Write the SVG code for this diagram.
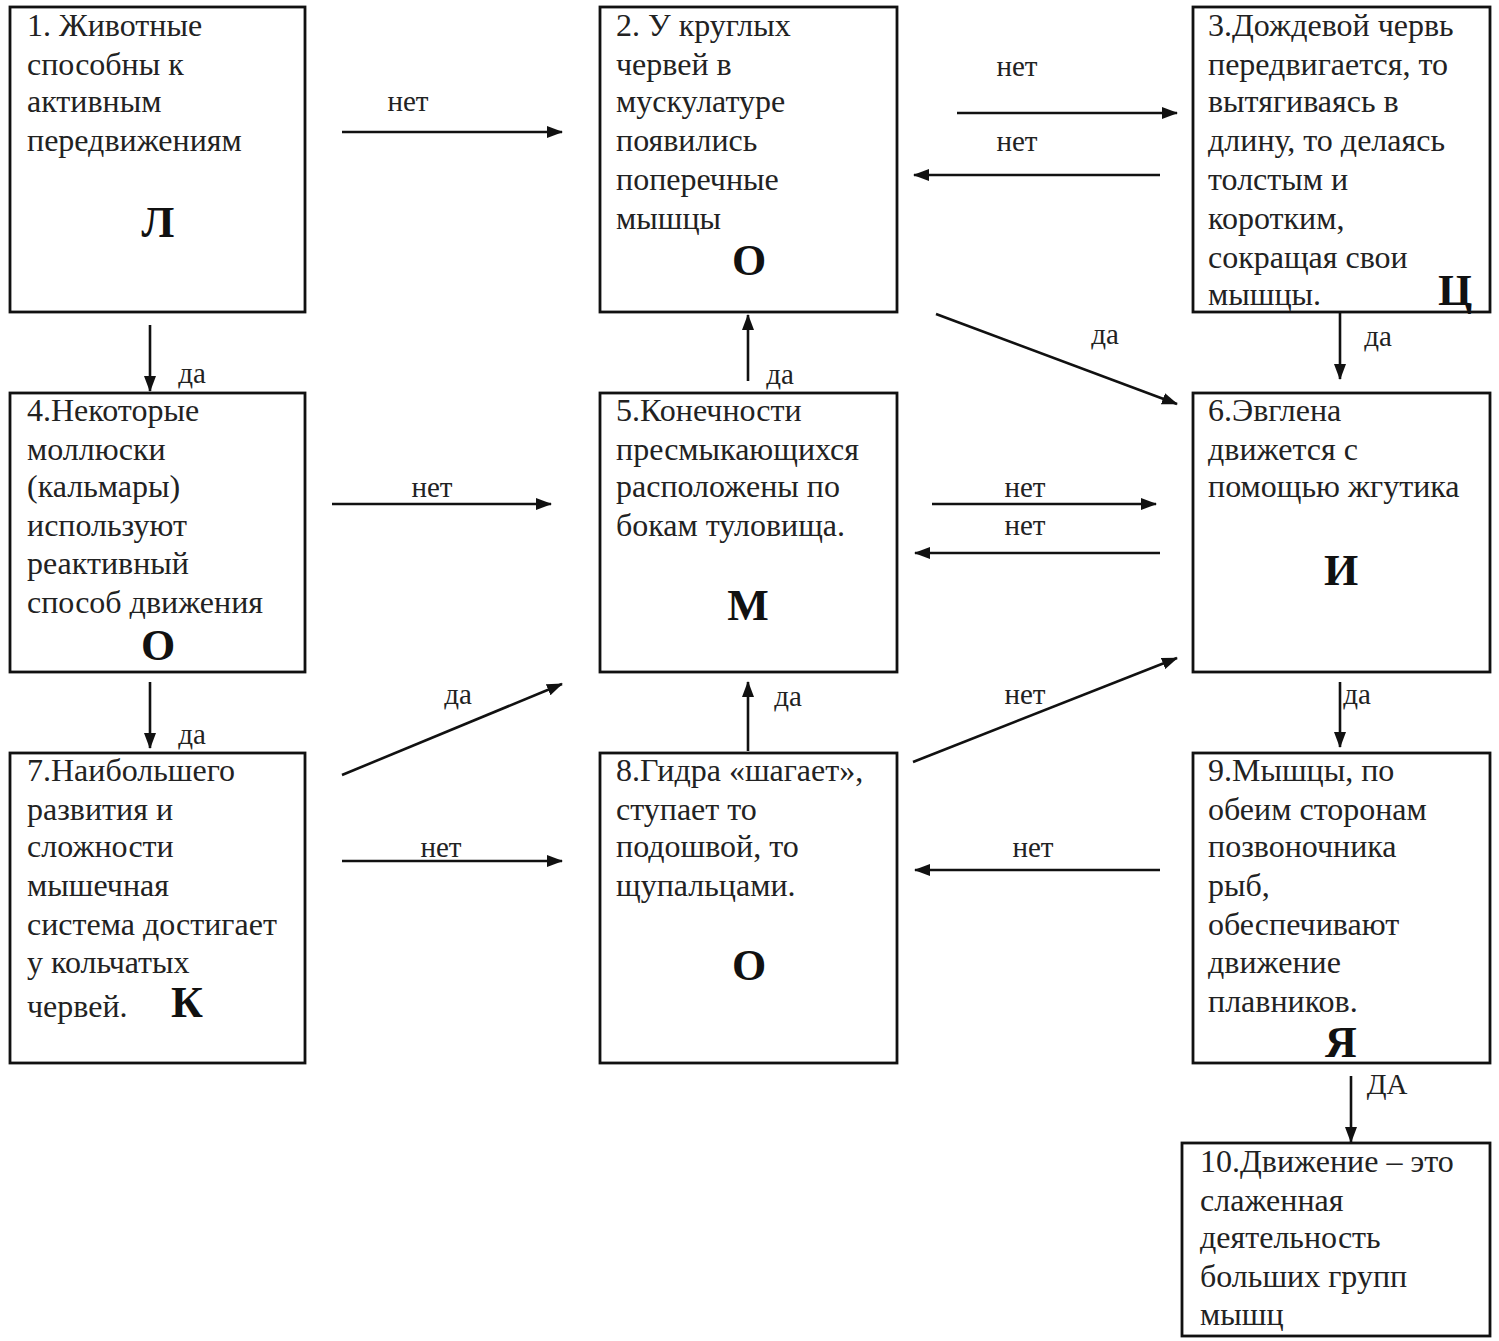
<svg xmlns="http://www.w3.org/2000/svg" width="1499" height="1341" viewBox="0 0 1499 1341">
<style>
.box{fill:#fff;stroke:#111;stroke-width:2.8}
.t{font-family:"Liberation Serif","Times New Roman",serif;font-size:32px;fill:#222}
.b{font-family:"Liberation Serif","Times New Roman",serif;font-size:44px;font-weight:bold;fill:#111}
.l{font-family:"Liberation Serif","Times New Roman",serif;font-size:29px;fill:#222}
.c{stroke:#111;stroke-width:2.6;fill:none;marker-end:url(#ah)}
</style>
<defs>
<marker id="ah" viewBox="0 0 16 12" refX="15" refY="6" markerWidth="16" markerHeight="12" markerUnits="userSpaceOnUse" orient="auto">
<path d="M0,0 L16,6 L0,12 Z" fill="#111"/>
</marker>
</defs>
<rect width="1499" height="1341" fill="#fff"/>

<g id="connectors">
<line class="c" x1="342" y1="132" x2="562" y2="132"/>
<text class="l" x="408" y="111" text-anchor="middle">нет</text>
<line class="c" x1="957" y1="113" x2="1177" y2="113"/>
<text class="l" x="1017" y="76" text-anchor="middle">нет</text>
<line class="c" x1="1160" y1="175" x2="914" y2="175"/>
<text class="l" x="1017" y="151" text-anchor="middle">нет</text>
<line class="c" x1="936" y1="314" x2="1177" y2="404"/>
<text class="l" x="1105" y="344" text-anchor="middle">да</text>
<line class="c" x1="1340" y1="313" x2="1340" y2="379"/>
<text class="l" x="1378" y="346" text-anchor="middle">да</text>
<line class="c" x1="150" y1="325" x2="150" y2="391"/>
<text class="l" x="192" y="383" text-anchor="middle">да</text>
<line class="c" x1="748" y1="381" x2="748" y2="315"/>
<text class="l" x="780" y="384" text-anchor="middle">да</text>
<line class="c" x1="332" y1="504" x2="551" y2="504"/>
<text class="l" x="432" y="497" text-anchor="middle">нет</text>
<line class="c" x1="932" y1="504" x2="1156" y2="504"/>
<text class="l" x="1025" y="497" text-anchor="middle">нет</text>
<line class="c" x1="1160" y1="553" x2="915" y2="553"/>
<text class="l" x="1025" y="535" text-anchor="middle">нет</text>
<line class="c" x1="150" y1="682" x2="150" y2="748"/>
<text class="l" x="192" y="744" text-anchor="middle">да</text>
<line class="c" x1="342" y1="775" x2="562" y2="684"/>
<text class="l" x="458" y="704" text-anchor="middle">да</text>
<line class="c" x1="748" y1="751" x2="748" y2="682"/>
<text class="l" x="788" y="706" text-anchor="middle">да</text>
<line class="c" x1="913" y1="762" x2="1177" y2="658"/>
<text class="l" x="1025" y="704" text-anchor="middle">нет</text>
<line class="c" x1="1340" y1="682" x2="1340" y2="747"/>
<text class="l" x="1357" y="704" text-anchor="middle">да</text>
<line class="c" x1="342" y1="861" x2="562" y2="861"/>
<text class="l" x="441" y="857" text-anchor="middle">нет</text>
<line class="c" x1="1160" y1="870" x2="915" y2="870"/>
<text class="l" x="1033" y="857" text-anchor="middle">нет</text>
<line class="c" x1="1351" y1="1076" x2="1351" y2="1142"/>
<text class="l" x="1387" y="1094" text-anchor="middle">ДА</text>
</g>

<g id="node1">
<rect class="box" x="10" y="7" width="295" height="305"/>
<text class="t" x="27" y="36">1. Животные</text>
<text class="t" x="27" y="75">способны  к</text>
<text class="t" x="27" y="112">активным</text>
<text class="t" x="27" y="151">передвижениям</text>
<text class="b" x="158" y="237" text-anchor="middle">Л</text>
</g>

<g id="node2">
<rect class="box" x="600" y="7" width="297" height="305"/>
<text class="t" x="616" y="36">2. У круглых</text>
<text class="t" x="616" y="75">червей в</text>
<text class="t" x="616" y="112">мускулатуре</text>
<text class="t" x="616" y="151">появились</text>
<text class="t" x="616" y="190">поперечные</text>
<text class="t" x="616" y="229">мышцы</text>
<text class="b" x="749" y="275" text-anchor="middle">О</text>
</g>

<g id="node3">
<rect class="box" x="1193" y="7" width="297" height="305"/>
<text class="t" x="1208" y="36">3.Дождевой червь</text>
<text class="t" x="1208" y="75">передвигается,  то</text>
<text class="t" x="1208" y="112">вытягиваясь в</text>
<text class="t" x="1208" y="151">длину, то делаясь</text>
<text class="t" x="1208" y="190">толстым и</text>
<text class="t" x="1208" y="229">коротким,</text>
<text class="t" x="1208" y="268">сокращая свои</text>
<text class="t" x="1208" y="305">мышцы.</text>
<text class="b" x="1455" y="305" text-anchor="middle">Ц</text>
</g>

<g id="node4">
<rect class="box" x="10" y="393" width="295" height="279"/>
<text class="t" x="27" y="421">4.Некоторые</text>
<text class="t" x="27" y="460">моллюски</text>
<text class="t" x="27" y="497">(кальмары)</text>
<text class="t" x="27" y="536">используют</text>
<text class="t" x="27" y="574">реактивный</text>
<text class="t" x="27" y="613">способ движения</text>
<text class="b" x="158" y="660" text-anchor="middle">О</text>
</g>

<g id="node5">
<rect class="box" x="600" y="393" width="297" height="279"/>
<text class="t" x="616" y="421">5.Конечности</text>
<text class="t" x="616" y="460">пресмыкающихся</text>
<text class="t" x="616" y="497">расположены  по</text>
<text class="t" x="616" y="536">бокам туловища.</text>
<text class="b" x="748" y="620" text-anchor="middle">М</text>
</g>

<g id="node6">
<rect class="box" x="1193" y="393" width="297" height="279"/>
<text class="t" x="1208" y="421">6.Эвглена</text>
<text class="t" x="1208" y="460">движется  с</text>
<text class="t" x="1208" y="497">помощью жгутика</text>
<text class="b" x="1341" y="585" text-anchor="middle">И</text>
</g>

<g id="node7">
<rect class="box" x="10" y="753" width="295" height="310"/>
<text class="t" x="27" y="781">7.Наибольшего</text>
<text class="t" x="27" y="820">развития и</text>
<text class="t" x="27" y="857">сложности</text>
<text class="t" x="27" y="896">мышечная</text>
<text class="t" x="27" y="935">система  достигает</text>
<text class="t" x="27" y="973">у кольчатых</text>
<text class="t" x="27" y="1017">червей.</text>
<text class="b" x="187" y="1017" text-anchor="middle">К</text>
</g>

<g id="node8">
<rect class="box" x="600" y="753" width="297" height="310"/>
<text class="t" x="616" y="781">8.Гидра «шагает»,</text>
<text class="t" x="616" y="820">ступает  то</text>
<text class="t" x="616" y="857">подошвой, то</text>
<text class="t" x="616" y="896">щупальцами.</text>
<text class="b" x="749" y="980" text-anchor="middle">О</text>
</g>

<g id="node9">
<rect class="box" x="1193" y="753" width="297" height="310"/>
<text class="t" x="1208" y="781">9.Мышцы, по</text>
<text class="t" x="1208" y="820">обеим сторонам</text>
<text class="t" x="1208" y="857">позвоночника</text>
<text class="t" x="1208" y="896">рыб,</text>
<text class="t" x="1208" y="935">обеспечивают</text>
<text class="t" x="1208" y="973">движение</text>
<text class="t" x="1208" y="1012">плавников.</text>
<text class="b" x="1341" y="1057" text-anchor="middle">Я</text>
</g>

<g id="node10">
<rect class="box" x="1182" y="1143" width="308" height="193"/>
<text class="t" x="1200" y="1172">10.Движение – это</text>
<text class="t" x="1200" y="1211">слаженная</text>
<text class="t" x="1200" y="1248">деятельность</text>
<text class="t" x="1200" y="1287">больших групп</text>
<text class="t" x="1200" y="1325">мышц</text>
</g>
</svg>
